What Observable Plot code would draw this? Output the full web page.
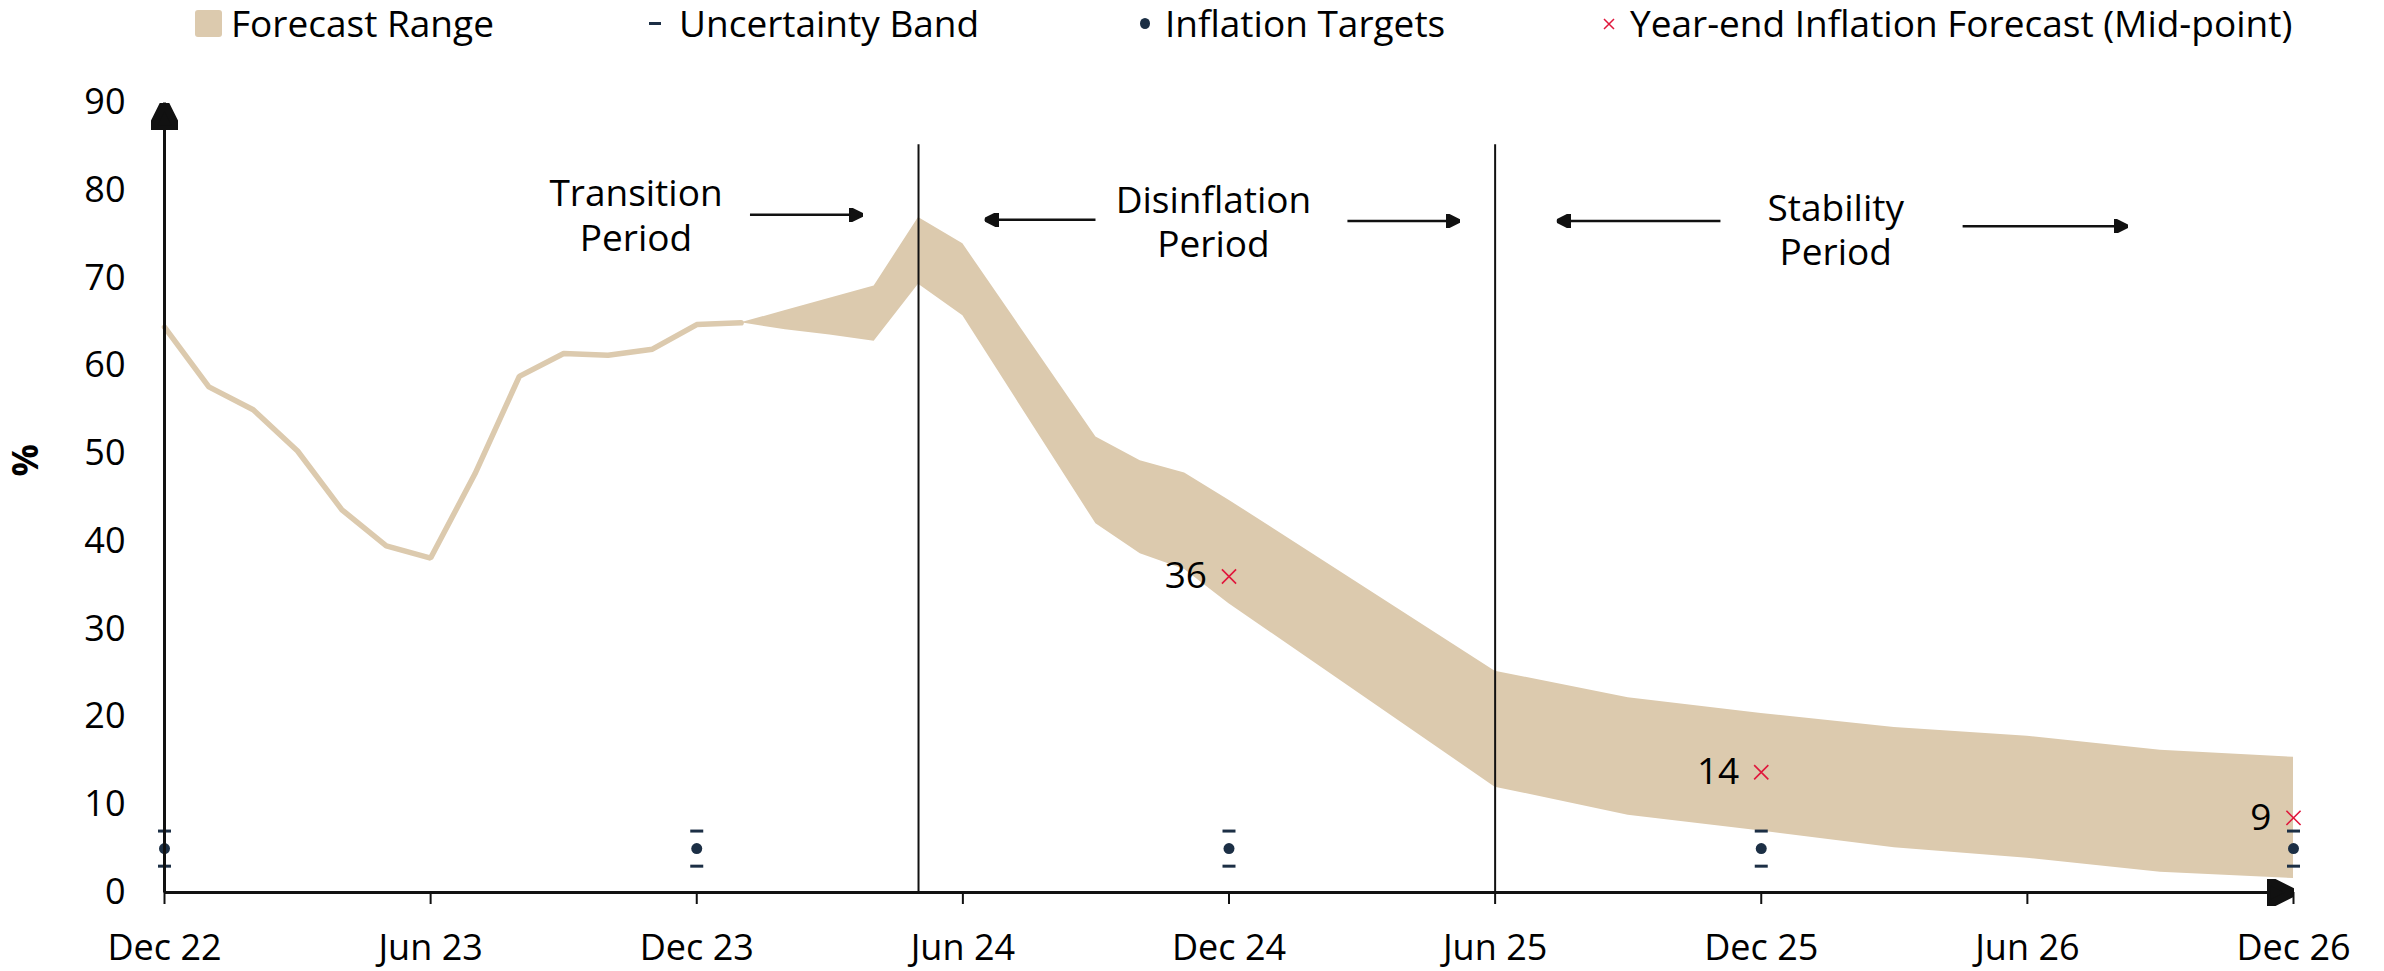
<!DOCTYPE html>
<html><head><meta charset="utf-8">
<script src="https://cdn.jsdelivr.net/npm/d3@7"></script>
<script src="https://cdn.jsdelivr.net/npm/@observablehq/plot@0.6"></script>
<style>
body{margin:0;background:#fff;font-family:"Open Sans",sans-serif;}
#legend{position:relative;width:2384px;height:46px;font-size:37px;color:#000;}
.li{position:absolute;top:0;height:46px;line-height:46px;white-space:nowrap;}
</style></head><body>
<div id="legend"></div><div id="chart"></div>
<script>
// ---------- data ----------
const tickMonths = ["2022-12","2023-06","2023-12","2024-06","2024-12","2025-06","2025-12","2026-06","2026-12"];
const tickLabels = ["Dec 22","Jun 23","Dec 23","Jun 24","Dec 24","Jun 25","Dec 25","Jun 26","Dec 26"];
const yTicks = [0,10,20,30,40,50,60,70,80,90];

const historyMonths = ["2022-12","2023-01","2023-02","2023-03","2023-04","2023-05","2023-06","2023-07","2023-08","2023-09","2023-10","2023-11","2023-12","2024-01"];
const historyValues = [64.4,57.6,55.0,50.3,43.6,39.5,38.1,47.7,58.8,61.4,61.2,61.9,64.7,64.9];

const bandMonths = ["2024-01","2024-02","2024-03","2024-04","2024-05","2024-06","2024-09","2024-10","2024-11","2024-12","2025-06","2025-09","2025-12","2026-03","2026-06","2026-09","2026-12"];
const bandUpper  = [64.9,66.3,67.7,69.1,76.9,73.9,51.9,49.2,47.8,44.7,25.2,22.2,20.4,18.8,17.8,16.2,15.4];
const bandLower  = [64.9,64.1,63.5,62.8,69.3,65.7,42.0,38.6,36.8,32.9,12.0,8.8,7.0,5.1,3.9,2.3,1.6];

const targetMonths = ["2022-12","2023-12","2024-12","2025-12","2026-12"];
const targetValues = [5,5,5,5,5];
const targetLow = [3,3,3,3,3];
const targetHigh = [7,7,7,7,7];

const forecastMonths = ["2024-12","2025-12","2026-12"];
const forecastValues = [36.0,13.7,8.5];

const dividerMonths = ["2024-05","2025-06"];
const dividerTop = 85.2;

const periodLabels = ["Transition\nPeriod","Disinflation\nPeriod","Stability\nPeriod"];
const periodX = [10.63,23.65,37.68];
const periodY = [77.25,76.55,75.55];

const arrowFrom = [13.20,20.99,26.67,35.08,40.54];
const arrowTo   = [15.74,18.49,29.20,31.39,44.26];
const arrowY    = [77.2,76.65,76.5,76.5,75.9];

const legendLabels = ["Forecast Range","Uncertainty Band","Inflation Targets","Year-end Inflation Forecast (Mid-point)"];

// ---------- helpers ----------
const mi = s => { const [y,m] = s.split("-").map(Number); return (y-2022)*12 + (m-12); };
const BAND = "#dccaae", NAVY = "#1c2f45", RED = "#e0173c", INK = "#111";

const history = historyMonths.map((m,i)=>({x:mi(m), v:historyValues[i]}));
const band = bandMonths.map((m,i)=>({x:mi(m), lo:bandLower[i], hi:bandUpper[i]}));
const targets = targetMonths.map((m,i)=>({x:mi(m), v:targetValues[i], lo:targetLow[i], hi:targetHigh[i]}));
const forecasts = forecastMonths.map((m,i)=>({x:mi(m), v:forecastValues[i]}));
const dividers = dividerMonths.map(m=>({x:mi(m)}));
const periods = periodLabels.map((t,i)=>({t, x:periodX[i], y:periodY[i]}));
const arrows = arrowFrom.map((a,i)=>({x1:a, x2:arrowTo[i], y:arrowY[i]}));

function headMarker(size){
  return (color) => {
    const ns = "http://www.w3.org/2000/svg";
    const mk = document.createElementNS(ns, "marker");
    mk.setAttribute("viewBox","-10 -5 10 10");
    mk.setAttribute("markerWidth", size);
    mk.setAttribute("markerHeight", size);
    mk.setAttribute("markerUnits","userSpaceOnUse");
    mk.setAttribute("orient","auto");
    mk.setAttribute("refX","0"); mk.setAttribute("refY","0");
    const p = document.createElementNS(ns,"path");
    p.setAttribute("d","M-10,-5L0,0L-10,5Z");
    p.setAttribute("fill", color);
    mk.appendChild(p);
    return mk;
  };
}
const dashSymbol = { draw(ctx, size){ const r = Math.sqrt(size/Math.PI); ctx.moveTo(-r,0); ctx.lineTo(r,0); } };

// ---------- legend ----------
const lg = document.getElementById("legend");
lg.innerHTML = `
 <div class="li" style="left:195px;top:10px;width:27px;height:27px;background:${BAND};border-radius:3px"></div>
 <div class="li" style="left:231px">${legendLabels[0]}</div>
 <div class="li" style="left:649px;top:22px;width:12px;height:3px;background:${NAVY}"></div>
 <div class="li" style="left:679px">${legendLabels[1]}</div>
 <div class="li" style="left:1140px;top:18px;width:10px;height:11px;border-radius:50%;background:${NAVY}"></div>
 <div class="li" style="left:1165px">${legendLabels[2]}</div>
 <svg class="li" style="left:1602px;top:17px" width="14" height="14"><path d="M2,2L12,12M12,2L2,12" stroke="${RED}" stroke-width="1.5"/></svg>
 <div class="li" style="left:1630px">${legendLabels[3]}</div>`;

// ---------- chart ----------
const chart = Plot.plot({
  width: 2384, height: 925,
  marginTop: 56, marginBottom: 79, marginLeft: 164, marginRight: 91,
  style: {fontFamily: "'Open Sans', sans-serif", fontSize: "36px", color: "#000", background: "#fff"},
  x: {domain: [0, 48], label: null},
  y: {domain: [0, 90], label: null},
  marks: [
    Plot.areaY(band, {x: "x", y1: "lo", y2: "hi", fill: BAND, curve: "linear"}),
    Plot.line(history, {x: "x", y: "v", stroke: BAND, strokeWidth: 5.5, strokeLinejoin: "miter"}),
    Plot.ruleX(dividers, {x: "x", y1: 0, y2: dividerTop, stroke: INK, strokeWidth: 2}),
    Plot.dot(targets, {x: "x", y: "lo", symbol: dashSymbol, r: 6.5, stroke: NAVY, strokeWidth: 3}),
    Plot.dot(targets, {x: "x", y: "hi", symbol: dashSymbol, r: 6.5, stroke: NAVY, strokeWidth: 3}),
    Plot.dot(targets, {x: "x", y: "v", r: 5.5, fill: NAVY, stroke: null}),
    Plot.dot(forecasts, {x: "x", y: "v", symbol: "times", r: 6.5, stroke: RED, strokeWidth: 1.6}),
    Plot.text(forecasts, {x: "x", y: "v", text: d => String(Math.round(d.v)), textAnchor: "end", dx: -22, fontSize: 37, fill: "#000"}),
    Plot.text(periods, {x: "x", y: "y", text: "t", fontSize: 37, lineHeight: 1.19, fill: "#000"}),
    Plot.link(arrows, {x1: "x1", x2: "x2", y1: "y", y2: "y", stroke: INK, strokeWidth: 2.5, markerEnd: headMarker(14)}),
    Plot.axisY({ticks: yTicks, tickSize: 0, tickPadding: 39, fontSize: 36, fill: "#000"}),
    Plot.axisX({ticks: tickMonths.map(mi), tickFormat: (d) => tickLabels[tickMonths.map(mi).indexOf(d)], tickSize: 12, tickPadding: 30, fontSize: 36, stroke: INK, strokeWidth: 2, fill: "#000"}),
    Plot.link([{x1: 0, x2: 48}], {x1: "x1", x2: "x2", y1: 0, y2: 0, stroke: INK, strokeWidth: 3, markerEnd: headMarker(27)}),
    Plot.link([{y1: 0, y2: 90}], {x1: 0, x2: 0, y1: "y1", y2: "y2", stroke: INK, strokeWidth: 3, markerEnd: headMarker(27)}),
    Plot.text(["%"], {frameAnchor: "left", text: d => d, dx: -138, dy: -21, rotate: -90, fontSize: 36, fontWeight: "bold", fill: "#000"})
  ]
});
document.getElementById("chart").appendChild(chart);
</script>
</body></html>
